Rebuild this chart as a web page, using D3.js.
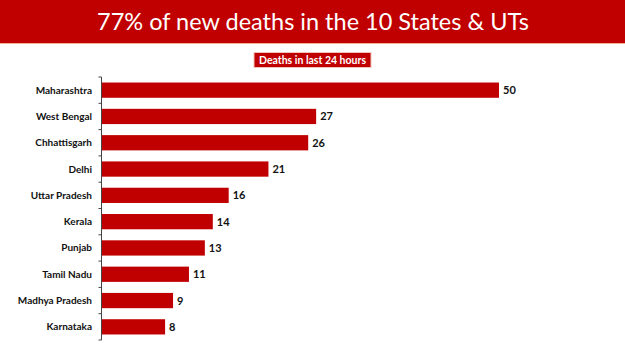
<!DOCTYPE html>
<meta charset="utf-8">
<title>77% of new deaths in the 10 States & UTs</title>
<script src="https://d3js.org/d3.v7.min.js"></script>
<style>
    body { margin: 0; background: #fff; }
    text { font-family: Lato, "Open Sans", sans-serif; }
    text.title { font-size: 23.5px; fill: #fff; text-anchor: middle; }
    text.sub { font-size: 10.5px; font-weight: bold; fill: #fff; text-anchor: middle; }
    text.cat { font-size: 10px; font-weight: bold; fill: #111; text-anchor: end; }
    text.val { font-size: 11px; font-weight: bold; fill: #111; }
</style>
<div id="chart"></div>
<script>
    // data
    var states = ["Maharashtra", "West Bengal", "Chhattisgarh", "Delhi", "Uttar Pradesh",
                  "Kerala", "Punjab", "Tamil Nadu", "Madhya Pradesh", "Karnataka"];
    var deaths = [50, 27, 26, 21, 16, 14, 13, 11, 9, 8];
    var titleText = "77% of new deaths in the 10 States & UTs";
    var subText = "Deaths in last 24 hours";

    var W = 625, H = 351;
    var red = "#c00000";
    var yTop = 77, yBottom = 340;

    var svg = d3.select("#chart").append("svg")
        .attr("width", W)
        .attr("height", H);

    // banner
    svg.append("rect")
        .attr("x", 0).attr("y", 0)
        .attr("width", W).attr("height", 43)
        .attr("fill", red);
    svg.append("line")
        .attr("x1", 0).attr("x2", W)
        .attr("y1", 43.5).attr("y2", 43.5)
        .attr("stroke", "#f3b49a")
        .attr("stroke-width", 1.2);
    svg.append("text")
        .attr("class", "title")
        .attr("x", 313)
        .attr("y", 29.5)
        .text(titleText);

    // subtitle box
    svg.append("rect")
        .attr("x", 254).attr("y", 52.5)
        .attr("width", 117).attr("height", 15)
        .attr("fill", red)
        .attr("stroke", "#f2c4b8")
        .attr("stroke-width", 1);
    svg.append("text")
        .attr("class", "sub")
        .attr("x", 312.5)
        .attr("y", 63.8)
        .text(subText);

    // scales
    var x = d3.scaleLinear()
        .domain([0, 50])
        .range([101.5, 499]);

    var y = d3.scaleBand()
        .domain(states)
        .range([yTop, yBottom])
        .paddingInner(0.42)
        .paddingOuter(0.21);

    // y axis line with ticks between categories
    svg.append("line")
        .attr("x1", x(0)).attr("x2", x(0))
        .attr("y1", yTop).attr("y2", yBottom)
        .attr("stroke", "#444")
        .attr("stroke-width", 1);

    var tickPos = d3.range(states.length + 1).map(function(i) { return yTop + i * (yBottom - yTop) / states.length; });
    svg.selectAll("line.tick")
        .data(tickPos)
        .enter()
        .append("line")
        .attr("class", "tick")
        .attr("x1", x(0) - 3).attr("x2", x(0))
        .attr("y1", function(d) { return d; })
        .attr("y2", function(d) { return d; })
        .attr("stroke", "#444");

    // bars
    svg.selectAll("rect.bar")
        .data(states)
        .enter()
        .append("rect")
        .attr("class", "bar")
        .attr("x", x(0) + 0.5)
        .attr("y", function(d) { return y(d); })
        .attr("width", function(d, i) { return x(deaths[i]) - x(0) - 0.5; })
        .attr("height", y.bandwidth())
        .attr("fill", red);

    // category labels
    svg.selectAll("text.cat")
        .data(states)
        .enter()
        .append("text")
        .attr("class", "cat")
        .attr("x", 92)
        .attr("y", function(d) { return y(d) + y.bandwidth() / 2 + 3.5; })
        .text(function(d) { return d; });

    // value labels
    svg.selectAll("text.val")
        .data(states)
        .enter()
        .append("text")
        .attr("class", "val")
        .attr("x", function(d, i) { return x(deaths[i]) + 4; })
        .attr("y", function(d) { return y(d) + y.bandwidth() / 2 + 4; })
        .text(function(d, i) { return deaths[i]; });
</script>
